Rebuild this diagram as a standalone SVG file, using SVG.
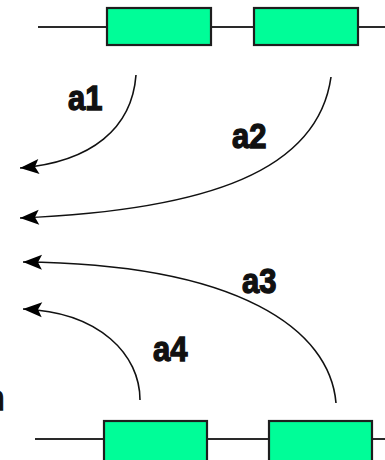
<svg xmlns="http://www.w3.org/2000/svg" width="385" height="460" viewBox="0 0 385 460">
<style>
.wire{stroke:#2a2a2a;stroke-width:2.2;fill:none}
.box{fill:#00fd98;stroke:#1e1e1e;stroke-width:2.2}
.arc{stroke:#111;stroke-width:1.6;fill:none;marker-end:url(#ah)}
.lbl{font-family:"Liberation Sans",Arial,sans-serif;font-weight:bold;font-size:31px;fill:#111;stroke:#111;stroke-width:1.2}
</style>
<defs>
<marker id="ah" markerUnits="userSpaceOnUse" markerWidth="24" markerHeight="18" viewBox="-20 -9 24 18" refX="0" refY="0" orient="auto">
<path d="M0,0 L-19,-7.5 L-15,0 L-19,7.5 z" fill="#000"/>
</marker>
</defs>
<g id="top-strand">
<line class="wire" x1="38" y1="27" x2="385" y2="27"/>
</g>
<g id="top-box1"><rect class="box" x="107" y="8" width="104" height="37"/></g>
<g id="top-box2"><rect class="box" x="254" y="8" width="104" height="37"/></g>
<g id="bottom-strand">
<line class="wire" x1="35" y1="439" x2="385" y2="439"/>
</g>
<g id="bottom-box1"><rect class="box" x="104" y="421" width="103" height="42"/></g>
<g id="bottom-box2"><rect class="box" x="269" y="421" width="103" height="42"/></g>
<g id="connectors">
<path class="arc" d="M136,75 C132,128 92,162 20,168"/>
<path class="arc" d="M331,77 C318,170 210,210 20,218"/>
<path class="arc" d="M336,403 C330,330 240,264 23,262"/>
<path class="arc" d="M140,400 C140,355 100,312 23,309"/>
</g>
<g id="labels">
<text class="lbl" transform="translate(68,110) scale(1,1.15)">a1</text>
<text class="lbl" transform="translate(232,148) scale(1,1.15)">a2</text>
<text class="lbl" transform="translate(242,293) scale(1,1.15)">a3</text>
<text class="lbl" transform="translate(153,361) scale(1,1.15)">a4</text>
<text class="lbl" text-anchor="end" transform="translate(4.5,410) scale(1,1.15)">n</text>
</g>
</svg>
